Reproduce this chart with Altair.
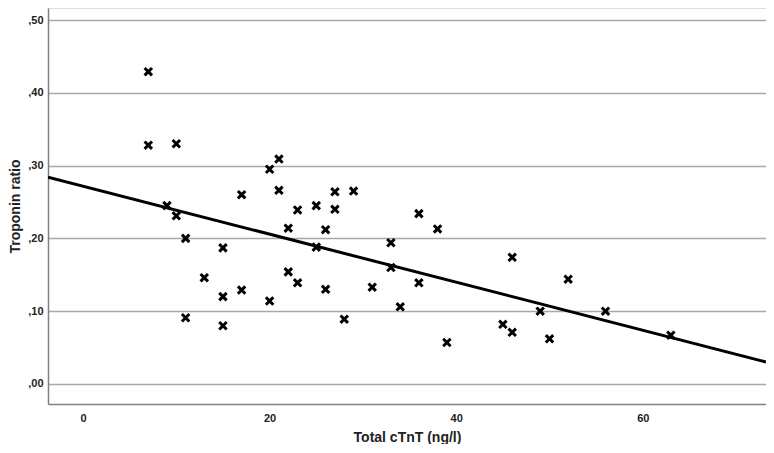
import altair as alt
import pandas as pd

total_ctnt = [7, 7, 10, 9, 10, 11, 17, 20, 21, 21, 23, 22, 15, 13, 15, 17, 20, 11, 15, 22, 23,
              25, 27, 29, 27, 26, 36, 38, 25, 33, 33, 26, 31, 36, 34, 28, 39, 46, 45, 46, 52, 49, 56, 50, 63]
troponin_ratio = [0.429, 0.328, 0.330, 0.245, 0.231, 0.200, 0.260, 0.295, 0.309, 0.266, 0.239, 0.214,
                  0.187, 0.146, 0.120, 0.129, 0.114, 0.091, 0.080, 0.154, 0.139,
                  0.245, 0.264, 0.265, 0.240, 0.212, 0.234, 0.213, 0.188, 0.194, 0.160, 0.130, 0.133,
                  0.139, 0.106, 0.089, 0.057, 0.174, 0.082, 0.071, 0.144, 0.100, 0.100, 0.062, 0.067]
x_ticks = [0, 20, 40, 60]
y_ticks = [0.0, 0.1, 0.2, 0.3, 0.4, 0.5]

df = pd.DataFrame({"x": total_ctnt, "y": troponin_ratio})

FONT = "Liberation Sans"
x_dom = [-3.75, 73.2]
y_dom = [-0.0275, 0.5165]

xscale = alt.Scale(domain=x_dom, nice=False, zero=False)
yscale = alt.Scale(domain=y_dom, nice=False, zero=False)

base = alt.Chart(df)

points = base.mark_point(
    shape="M-1,-1L1,1M1,-1L-1,1", filled=False, stroke="#000000", strokeWidth=3,
    size=55, opacity=1, strokeCap="butt"
).encode(
    x=alt.X("x:Q", scale=xscale,
            axis=alt.Axis(title="Total cTnT (ng/l)", values=x_ticks, grid=False, ticks=False,
                          domainColor="#808080", domainWidth=1.5, labelFont=FONT, labelFontSize=11,
                          labelFontWeight="bold", labelColor="#222222", labelPadding=8,
                          titleFont=FONT, titleFontSize=14, titleFontWeight="bold",
                          titleColor="#222222", titlePadding=7)),
    y=alt.Y("y:Q", scale=yscale,
            axis=alt.Axis(title="Troponin ratio", values=y_ticks, grid=True, gridColor="#a8a8a8",
                          gridWidth=1.5, ticks=False, domainColor="#808080", domainWidth=1.5,
                          labelExpr="',' + substring(format(datum.value, '.2f'), 2)",
                          labelFont=FONT, labelFontSize=11, labelFontWeight="bold",
                          labelColor="#222222", labelPadding=5,
                          titleFont=FONT, titleFontSize=14, titleFontWeight="bold",
                          titleColor="#222222", titlePadding=5)),
)

line = base.transform_regression("x", "y", extent=x_dom).mark_line(
    color="#000000", strokeWidth=3, clip=True
).encode(
    x=alt.X("x:Q", scale=xscale),
    y=alt.Y("y:Q", scale=yscale),
)

chart = alt.layer(line, points).properties(
    width=718, height=396,
    autosize=alt.AutoSizeParams(type="none"),
    padding={"left": 40, "top": 0, "right": 0, "bottom": 40},
).configure_view(stroke=None).configure(background="white")

chart.save("out.html", embed_options={"renderer": "svg", "actions": False})
